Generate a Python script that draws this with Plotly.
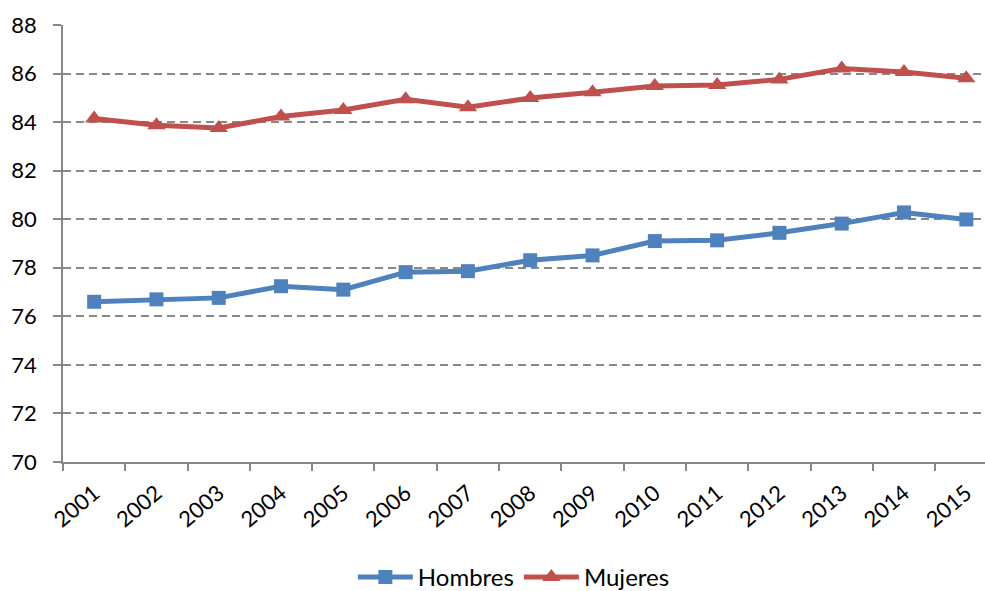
import plotly.graph_objects as go

years = [str(y) for y in range(2001, 2016)]
hombres = [76.60, 76.70, 76.76, 77.24, 77.10, 77.82, 77.86, 78.31, 78.51, 79.10, 79.13, 79.44, 79.82, 80.28, 79.99]
mujeres = [84.15, 83.87, 83.76, 84.23, 84.50, 84.94, 84.61, 84.99, 85.23, 85.49, 85.53, 85.76, 86.21, 86.06, 85.81]
y_ticks = [70, 72, 74, 76, 78, 80, 82, 84, 86, 88]

BLUE = "#4F81BD"
RED = "#C0504D"
GRID = "#888888"
FONT = "Lato, Open Sans, sans-serif"

fig = go.Figure()
fig.add_trace(go.Scatter(
    x=years, y=hombres, name="Hombres", mode="lines+markers",
    line=dict(color=BLUE, width=5),
    marker=dict(symbol="square", size=14, color=BLUE),
))
fig.add_trace(go.Scatter(
    x=years, y=mujeres, name="Mujeres", mode="lines+markers",
    line=dict(color=RED, width=5),
    marker=dict(symbol="triangle-up", size=16, color=RED),
))

fig.update_layout(
    width=985, height=600,
    margin=dict(l=63, r=0, t=25, b=131),
    paper_bgcolor="white", plot_bgcolor="white",
    font=dict(family=FONT, size=22, color="#000000"),
    showlegend=True,
    legend=dict(orientation="h", x=0.489, xanchor="center", y=-0.265, yanchor="middle",
                font=dict(size=24), itemwidth=55, traceorder="normal"),
)
fig.update_xaxes(
    type="category", range=[-0.5, 14.3], automargin=False,
    showline=True, linecolor=GRID, linewidth=1.5,
    ticks="outside", tickson="boundaries", ticklen=7, tickcolor=GRID, tickwidth=1.5,
    tickangle=-40, showgrid=False, tickfont=dict(size=22), ticklabelstandoff=8,
)
fig.update_yaxes(
    range=[70, 88], tickvals=y_ticks, automargin=False,
    showline=True, linecolor=GRID, linewidth=1.5,
    ticks="outside", ticklen=8, tickcolor=GRID, tickwidth=1.5,
    showgrid=True, gridcolor=GRID, gridwidth=1.5, griddash="8px,5px",
    zeroline=False, tickfont=dict(size=22), ticklabelstandoff=12,
)

fig.write_html(
    "out.html",
    config={"displayModeBar": False},
    post_script=(
        "document.documentElement.style.margin='0';"
        "document.documentElement.style.padding='0';"
        "document.body.style.margin='0';document.body.style.padding='0';"
        "document.documentElement.style.overflow='hidden';"
        "document.body.style.overflow='hidden';"
    ),
)
